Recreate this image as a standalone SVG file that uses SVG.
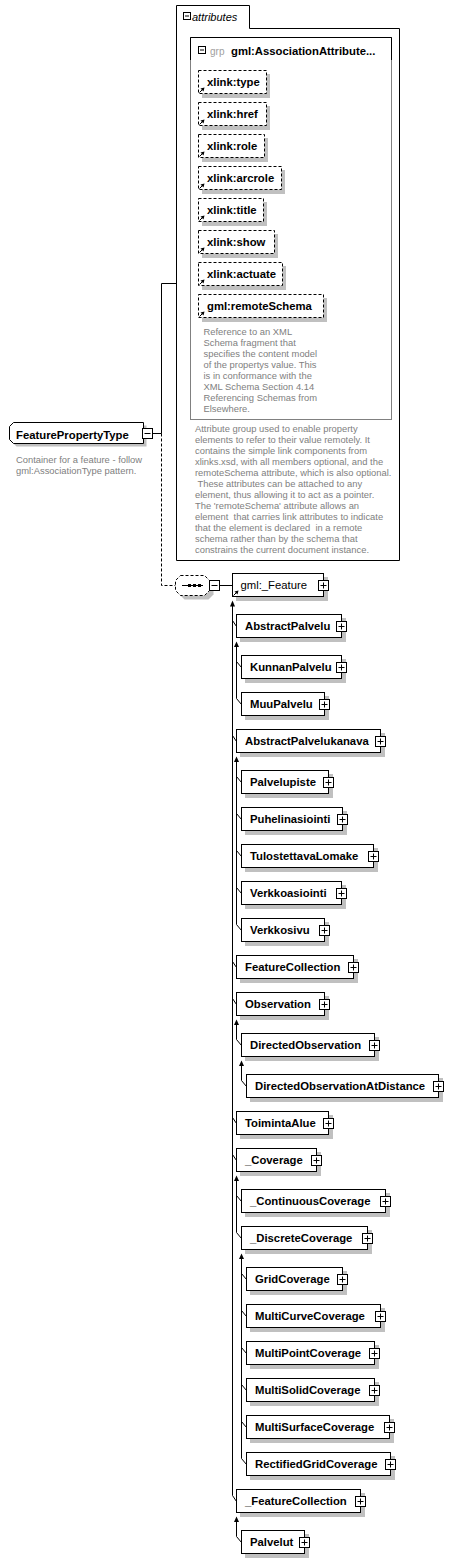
<svg xmlns="http://www.w3.org/2000/svg" xmlns:xlink="http://www.w3.org/1999/xlink" width="453" height="1564" viewBox="0 0 453 1564">
<style>
.bx{fill:#fff;stroke:#000;stroke-width:1}
.sh{fill:#c0c0c0;stroke:none}
.at{fill:#fff;stroke:#000;stroke-width:1;stroke-dasharray:3,2}
.ln{fill:none;stroke:#000;stroke-width:1}
.dl{fill:none;stroke:#000;stroke-width:1;stroke-dasharray:3,2}
.lb{font-family:"Liberation Sans",Arial,sans-serif;font-size:11.3px;font-weight:bold;fill:#000}
.ln2{font-family:"Liberation Sans",Arial,sans-serif;font-size:11.3px;font-weight:normal;fill:#000}
.ds{font-family:"Liberation Sans",Arial,sans-serif;font-size:9.4px;fill:#808080;white-space:pre}
.ar{fill:#000;stroke:none}
</style>
<defs>
<g id="plus"><rect x="-5" y="-5" width="10" height="10" fill="#fff" stroke="#000"/><path d="M-3,0H3M0,-3V3" stroke="#000" fill="none"/></g>
<g id="minus"><rect x="-5" y="-5" width="10" height="10" fill="#fff" stroke="#000"/><path d="M-3,0H3" stroke="#000" fill="none"/></g>
<g id="ref"><path d="M1.5,-1.5L5,-5" stroke="#000" fill="none"/><polygon points="6.5,-6.5 2.5,-5.5 5.5,-2.5" fill="#000"/></g>
</defs>

<!-- connectors -->
<g id="connectors">
  <path class="ln" d="M152.5,433.5H161.5V283.5H176.5"/>
  <path class="dl" d="M161.5,433.5V585.5H175.5"/>
  <path class="ln" d="M219.5,585.5H232.5"/>
  <path class="ln" d="M232.5,606V1495.5"/>
  <polygon class="ar" points="232.5,600.5 230,606.5 235,606.5"/>
  <path class="ln" d="M232.5,620.5L236.5,626.5M232.5,735.5L236.5,741.5M232.5,961.5L236.5,967.5M232.5,998.5L236.5,1004.5M232.5,1117.5L236.5,1123.5M232.5,1154.5L236.5,1160.5M232.5,1495.5L236.5,1501.5"/>
  <path class="ln" d="M236.5,646V698.5"/>
  <polygon class="ar" points="236.5,641.5 234,647 239,647"/>
  <path class="ln" d="M236.5,661.5L241.5,667.5M236.5,698.5L241.5,704.5"/>
  <path class="ln" d="M236.5,761V924.5"/>
  <polygon class="ar" points="236.5,756.5 234,762 239,762"/>
  <path class="ln" d="M236.5,776.5L241.5,782.5M236.5,813.5L241.5,819.5M236.5,850.5L241.5,856.5M236.5,887.5L241.5,893.5M236.5,924.5L241.5,930.5"/>
  <path class="ln" d="M236.5,1024V1039.5L241.5,1045.5"/>
  <polygon class="ar" points="236.5,1019.5 234,1025 239,1025"/>
  <path class="ln" d="M241.5,1065V1080.5L246.5,1086.5"/>
  <polygon class="ar" points="241.5,1060.5 239,1066 244,1066"/>
  <path class="ln" d="M236.5,1180V1232.5"/>
  <polygon class="ar" points="236.5,1175.5 234,1181 239,1181"/>
  <path class="ln" d="M236.5,1195.5L241.5,1201.5M236.5,1232.5L241.5,1238.5"/>
  <path class="ln" d="M241.5,1258V1458.5"/>
  <polygon class="ar" points="241.5,1253.5 239,1259 244,1259"/>
  <path class="ln" d="M241.5,1273.5L246.5,1279.5M241.5,1310.5L246.5,1316.5M241.5,1347.5L246.5,1353.5M241.5,1384.5L246.5,1390.5M241.5,1421.5L246.5,1427.5M241.5,1458.5L246.5,1464.5"/>
  <path class="ln" d="M236.5,1521V1536.5L241.5,1542.5"/>
  <polygon class="ar" points="236.5,1516.5 234,1522 239,1522"/>
</g>

<g id="FeaturePropertyType">
  <polygon class="sh" points="16.5,425.5 146.5,425.5 146.5,446.5 16.5,446.5 12.5,442.5 12.5,429.5"/>
  <polygon class="bx" points="13.5,422.5 143.5,422.5 143.5,443.5 13.5,443.5 9.5,439.5 9.5,426.5"/>
  <text class="lb" x="16" y="438.5">FeaturePropertyType</text>
  <use xlink:href="#minus" transform="translate(147.5,433.5)"/>
  <text class="ds" x="16" y="462.5">Container for a feature - follow</text>
  <text class="ds" x="16" y="473.5">gml:AssociationType pattern.</text>
</g>

<g id="attributes">
  <polygon class="ln" points="176.5,5.5 249.5,5.5 249.5,28.5 399.5,28.5 399.5,560.5 176.5,560.5"/>
  <rect x="183.5" y="12.5" width="7" height="7" fill="#fff" stroke="#000"/>
  <path class="ln" d="M185,16H189"/>
  <text x="192" y="20.5" style="font-family:'Liberation Sans',Arial,sans-serif;font-size:11px;font-style:italic">attributes</text>
  <text class="ds" x="195" y="431.5">Attribute group used to enable property</text>
  <text class="ds" x="195" y="442.5">elements to refer to their value remotely. It</text>
  <text class="ds" x="195" y="453.5">contains the simple link components from</text>
  <text class="ds" x="195" y="464.5">xlinks.xsd, with all members optional, and the</text>
  <text class="ds" x="195" y="475.5">remoteSchema attribute, which is also optional.</text>
  <text class="ds" x="195" y="486.5"> These attributes can be attached to any</text>
  <text class="ds" x="195" y="497.5">element, thus allowing it to act as a pointer.</text>
  <text class="ds" x="195" y="508.5">The 'remoteSchema' attribute allows an</text>
  <text class="ds" x="195" y="519.5">element  that carries link attributes to indicate</text>
  <text class="ds" x="195" y="530.5">that the element is declared  in a remote</text>
  <text class="ds" x="195" y="541.5">schema rather than by the schema that</text>
  <text class="ds" x="195" y="552.5">constrains the current document instance.</text>
</g>

<g id="grp">
  <rect x="190.5" y="37.5" width="201" height="382" fill="#fff" stroke="#808080"/>
  <path class="ln" d="M190.5,60V37.5H391.5V60"/>
  <rect x="198.5" y="46.5" width="7" height="7" fill="#fff" stroke="#000"/>
  <path class="ln" d="M200,50H204"/>
  <text x="210" y="54.5" style="font-family:'Liberation Sans',Arial,sans-serif;font-size:10px;fill:#a0a0a0">grp</text>
  <text class="lb" x="231" y="54.5">gml:AssociationAttribute...</text>
  <text class="ds" x="203.5" y="334.5">Reference to an XML</text>
  <text class="ds" x="203.5" y="345.5">Schema fragment that</text>
  <text class="ds" x="203.5" y="356.5">specifies the content model</text>
  <text class="ds" x="203.5" y="367.5">of the propertys value. This</text>
  <text class="ds" x="203.5" y="378.5">is in conformance with the</text>
  <text class="ds" x="203.5" y="389.5">XML Schema Section 4.14</text>
  <text class="ds" x="203.5" y="400.5">Referencing Schemas from</text>
  <text class="ds" x="203.5" y="411.5">Elsewhere.</text>
</g>

<g id="xlink_type"><rect class="sh" x="202" y="74" width="68" height="24"/><rect class="at" x="198.5" y="70.5" width="68" height="23"/><text class="lb" x="207" y="86">xlink:type</text><use xlink:href="#ref" transform="translate(198,94)"/></g>
<g id="xlink_href"><rect class="sh" x="202" y="106" width="68" height="24"/><rect class="at" x="198.5" y="102.5" width="68" height="23"/><text class="lb" x="207" y="118">xlink:href</text><use xlink:href="#ref" transform="translate(198,126)"/></g>
<g id="xlink_role"><rect class="sh" x="202" y="138" width="66" height="24"/><rect class="at" x="198.5" y="134.5" width="66" height="23"/><text class="lb" x="207" y="150">xlink:role</text><use xlink:href="#ref" transform="translate(198,158)"/></g>
<g id="xlink_arcrole"><rect class="sh" x="202" y="170" width="83" height="24"/><rect class="at" x="198.5" y="166.5" width="83" height="23"/><text class="lb" x="207" y="182">xlink:arcrole</text><use xlink:href="#ref" transform="translate(198,190)"/></g>
<g id="xlink_title"><rect class="sh" x="202" y="202" width="65" height="24"/><rect class="at" x="198.5" y="198.5" width="65" height="23"/><text class="lb" x="207" y="214">xlink:title</text><use xlink:href="#ref" transform="translate(198,222)"/></g>
<g id="xlink_show"><rect class="sh" x="202" y="234" width="76" height="24"/><rect class="at" x="198.5" y="230.5" width="76" height="23"/><text class="lb" x="207" y="246">xlink:show</text><use xlink:href="#ref" transform="translate(198,254)"/></g>
<g id="xlink_actuate"><rect class="sh" x="202" y="266" width="84" height="24"/><rect class="at" x="198.5" y="262.5" width="84" height="23"/><text class="lb" x="207" y="278">xlink:actuate</text><use xlink:href="#ref" transform="translate(198,286)"/></g>
<g id="gml_remoteSchema"><rect class="sh" x="202" y="298" width="125" height="24"/><rect class="at" x="198.5" y="294.5" width="125" height="23"/><text class="lb" x="207" y="310">gml:remoteSchema</text><use xlink:href="#ref" transform="translate(198,318)"/></g>

<g id="sequence">
  <polygon class="sh" points="184.5,579.5 208.5,579.5 213.5,584.5 213.5,594.5 208.5,599.5 184.5,599.5 179.5,594.5 179.5,584.5"/>
  <polygon class="at" points="180.5,575.5 204.5,575.5 209.5,580.5 209.5,590.5 204.5,595.5 180.5,595.5 175.5,590.5 175.5,580.5"/>
  <path class="ln" d="M182,585.5H203"/>
  <rect x="188" y="584" width="3" height="3" fill="#000"/>
  <rect x="193" y="584" width="3" height="3" fill="#000"/>
  <rect x="198" y="584" width="3" height="3" fill="#000"/>
  <use xlink:href="#minus" transform="translate(214.5,585.5)"/>
</g>

<g id="gml_Feature"><rect class="sh" x="236" y="577" width="92" height="24"/><rect class="bx" x="232.5" y="573.5" width="91" height="23"/><text class="ln2" x="240.5" y="589">gml:_Feature</text><use xlink:href="#ref" transform="translate(232,597)"/><use xlink:href="#plus" transform="translate(323.5,585.5)"/></g>

<g id="AbstractPalvelu"><rect class="sh" x="240" y="618" width="106" height="24"/><rect class="bx" x="236.5" y="614.5" width="105" height="23"/><text class="lb" x="245" y="630">AbstractPalvelu</text><use xlink:href="#plus" transform="translate(341.5,626.5)"/></g>
<g id="KunnanPalvelu"><rect class="sh" x="245" y="659" width="101" height="24"/><rect class="bx" x="241.5" y="655.5" width="100" height="23"/><text class="lb" x="250" y="671">KunnanPalvelu</text><use xlink:href="#plus" transform="translate(341.5,667.5)"/></g>
<g id="MuuPalvelu"><rect class="sh" x="245" y="696" width="84" height="24"/><rect class="bx" x="241.5" y="692.5" width="83" height="23"/><text class="lb" x="250" y="708">MuuPalvelu</text><use xlink:href="#plus" transform="translate(324.5,704.5)"/></g>
<g id="AbstractPalvelukanava"><rect class="sh" x="240" y="733" width="145" height="24"/><rect class="bx" x="236.5" y="729.5" width="144" height="23"/><text class="lb" x="245" y="745">AbstractPalvelukanava</text><use xlink:href="#plus" transform="translate(380.5,741.5)"/></g>
<g id="Palvelupiste"><rect class="sh" x="245" y="774" width="88" height="24"/><rect class="bx" x="241.5" y="770.5" width="87" height="23"/><text class="lb" x="250" y="786">Palvelupiste</text><use xlink:href="#plus" transform="translate(328.5,782.5)"/></g>
<g id="Puhelinasiointi"><rect class="sh" x="245" y="811" width="102" height="24"/><rect class="bx" x="241.5" y="807.5" width="101" height="23"/><text class="lb" x="250" y="823">Puhelinasiointi</text><use xlink:href="#plus" transform="translate(342.5,819.5)"/></g>
<g id="TulostettavaLomake"><rect class="sh" x="245" y="848" width="133" height="24"/><rect class="bx" x="241.5" y="844.5" width="132" height="23"/><text class="lb" x="250" y="860">TulostettavaLomake</text><use xlink:href="#plus" transform="translate(373.5,856.5)"/></g>
<g id="Verkkoasiointi"><rect class="sh" x="245" y="885" width="101" height="24"/><rect class="bx" x="241.5" y="881.5" width="100" height="23"/><text class="lb" x="250" y="897">Verkkoasiointi</text><use xlink:href="#plus" transform="translate(341.5,893.5)"/></g>
<g id="Verkkosivu"><rect class="sh" x="245" y="922" width="84" height="24"/><rect class="bx" x="241.5" y="918.5" width="83" height="23"/><text class="lb" x="250" y="934">Verkkosivu</text><use xlink:href="#plus" transform="translate(324.5,930.5)"/></g>
<g id="FeatureCollection"><rect class="sh" x="240" y="959" width="118" height="24"/><rect class="bx" x="236.5" y="955.5" width="117" height="23"/><text class="lb" x="245" y="971">FeatureCollection</text><use xlink:href="#plus" transform="translate(353.5,967.5)"/></g>
<g id="Observation"><rect class="sh" x="240" y="996" width="89" height="24"/><rect class="bx" x="236.5" y="992.5" width="88" height="23"/><text class="lb" x="245" y="1008">Observation</text><use xlink:href="#plus" transform="translate(324.5,1004.5)"/></g>
<g id="DirectedObservation"><rect class="sh" x="245" y="1037" width="134" height="24"/><rect class="bx" x="241.5" y="1033.5" width="133" height="23"/><text class="lb" x="250" y="1049">DirectedObservation</text><use xlink:href="#plus" transform="translate(374.5,1045.5)"/></g>
<g id="DirectedObservationAtDistance"><rect class="sh" x="250" y="1078" width="193" height="24"/><rect class="bx" x="246.5" y="1074.5" width="192" height="23"/><text class="lb" x="255" y="1090">DirectedObservationAtDistance</text><use xlink:href="#plus" transform="translate(438.5,1086.5)"/></g>
<g id="ToimintaAlue"><rect class="sh" x="240" y="1115" width="93" height="24"/><rect class="bx" x="236.5" y="1111.5" width="92" height="23"/><text class="lb" x="245" y="1127">ToimintaAlue</text><use xlink:href="#plus" transform="translate(328.5,1123.5)"/></g>
<g id="_Coverage"><rect class="sh" x="240" y="1152" width="81" height="24"/><rect class="bx" x="236.5" y="1148.5" width="80" height="23"/><text class="lb" x="245" y="1164">_Coverage</text><use xlink:href="#plus" transform="translate(316.5,1160.5)"/></g>
<g id="_ContinuousCoverage"><rect class="sh" x="245" y="1193" width="145" height="24"/><rect class="bx" x="241.5" y="1189.5" width="144" height="23"/><text class="lb" x="250" y="1205">_ContinuousCoverage</text><use xlink:href="#plus" transform="translate(385.5,1201.5)"/></g>
<g id="_DiscreteCoverage"><rect class="sh" x="245" y="1230" width="127" height="24"/><rect class="bx" x="241.5" y="1226.5" width="126" height="23"/><text class="lb" x="250" y="1242">_DiscreteCoverage</text><use xlink:href="#plus" transform="translate(367.5,1238.5)"/></g>
<g id="GridCoverage"><rect class="sh" x="250" y="1271" width="97" height="24"/><rect class="bx" x="246.5" y="1267.5" width="96" height="23"/><text class="lb" x="255" y="1283">GridCoverage</text><use xlink:href="#plus" transform="translate(342.5,1279.5)"/></g>
<g id="MultiCurveCoverage"><rect class="sh" x="250" y="1308" width="135" height="24"/><rect class="bx" x="246.5" y="1304.5" width="134" height="23"/><text class="lb" x="255" y="1320">MultiCurveCoverage</text><use xlink:href="#plus" transform="translate(380.5,1316.5)"/></g>
<g id="MultiPointCoverage"><rect class="sh" x="250" y="1345" width="129" height="24"/><rect class="bx" x="246.5" y="1341.5" width="128" height="23"/><text class="lb" x="255" y="1357">MultiPointCoverage</text><use xlink:href="#plus" transform="translate(374.5,1353.5)"/></g>
<g id="MultiSolidCoverage"><rect class="sh" x="250" y="1382" width="129" height="24"/><rect class="bx" x="246.5" y="1378.5" width="128" height="23"/><text class="lb" x="255" y="1394">MultiSolidCoverage</text><use xlink:href="#plus" transform="translate(374.5,1390.5)"/></g>
<g id="MultiSurfaceCoverage"><rect class="sh" x="250" y="1419" width="144" height="24"/><rect class="bx" x="246.5" y="1415.5" width="143" height="23"/><text class="lb" x="255" y="1431">MultiSurfaceCoverage</text><use xlink:href="#plus" transform="translate(389.5,1427.5)"/></g>
<g id="RectifiedGridCoverage"><rect class="sh" x="250" y="1456" width="145" height="24"/><rect class="bx" x="246.5" y="1452.5" width="144" height="23"/><text class="lb" x="255" y="1468">RectifiedGridCoverage</text><use xlink:href="#plus" transform="translate(390.5,1464.5)"/></g>
<g id="_FeatureCollection"><rect class="sh" x="240" y="1493" width="125" height="24"/><rect class="bx" x="236.5" y="1489.5" width="124" height="23"/><text class="lb" x="245" y="1505">_FeatureCollection</text><use xlink:href="#plus" transform="translate(360.5,1501.5)"/></g>
<g id="Palvelut"><rect class="sh" x="245" y="1534" width="64" height="24"/><rect class="bx" x="241.5" y="1530.5" width="63" height="23"/><text class="lb" x="250" y="1546">Palvelut</text><use xlink:href="#plus" transform="translate(304.5,1542.5)"/></g>
</svg>
